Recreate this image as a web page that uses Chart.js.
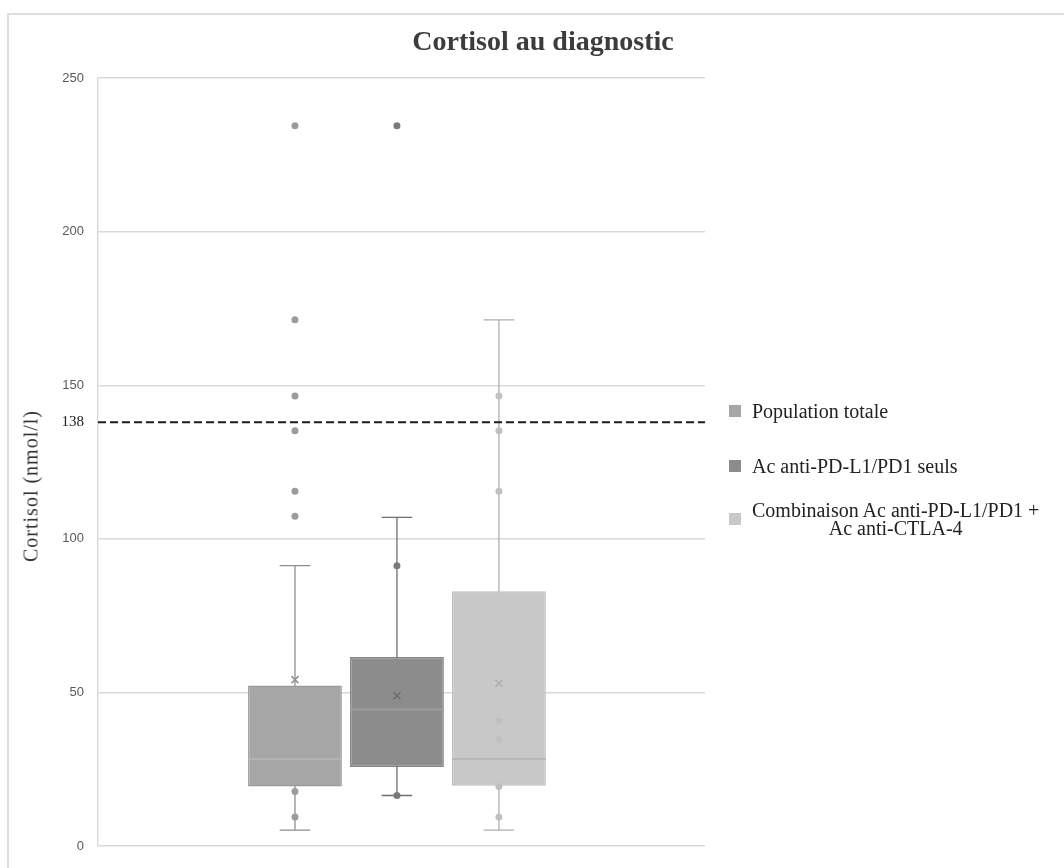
<!DOCTYPE html>
<html>
<head>
<meta charset="utf-8">
<script src="https://cdn.jsdelivr.net/npm/chart.js@4.4.1/dist/chart.umd.min.js"></script>
<style>
  html, body { margin: 0; padding: 0; background: #ffffff; }
  #wrap { position: relative; width: 1064px; height: 868px; overflow: hidden; background: #fff; }
  #frame { position: absolute; left: 7px; top: 13px; width: 1100px; height: 900px; border-left: 2px solid #dedede; border-top: 2px solid #dedede; }
  canvas { position: absolute; left: 0; top: 0; }
  #title { position: absolute; left: 0; width: 1086px; top: 24px; text-align: center; font-family: "Liberation Serif", "Times New Roman", serif; font-weight: bold; font-size: 28px; line-height: 34px; color: #3c3c3c; }
  #ytitle { position: absolute; left: 31px; top: 486px; width: 0; height: 0; }
  #ytitle span { position: absolute; left: 0; top: 0; transform: translate(-50%, -50%) rotate(-90deg); white-space: nowrap; font-family: "Liberation Serif", "Times New Roman", serif; font-size: 20px; letter-spacing: 1px; color: #333; }
  #legend { position: absolute; left: 729px; top: 0; font-family: "Liberation Serif", "Times New Roman", serif; font-size: 20px; color: #222; }
  .item { position: absolute; left: 0; white-space: nowrap; }
  .sw { position: absolute; left: 0; width: 12px; height: 12px; }
  .txt { position: absolute; left: 23px; line-height: 18px; text-align: center; }
</style>
</head>
<body>
<div id="wrap">
  <div id="frame"></div>
  <canvas id="c" width="1064" height="868"></canvas>
  <div id="title"></div>
  <div id="ytitle"><span></span></div>
  <div id="legend"></div>
</div>
<script>
// ---------- data ----------
const chartTitle = 'Cortisol au diagnostic';
const axisTitle = 'Cortisol (nmol/l)';
const groupLabels = ['Population totale', 'Ac anti-PD-L1/PD1 seuls', ['Combinaison Ac anti-PD-L1/PD1 +', 'Ac anti-CTLA-4']];
const q1Values = [19.4, 25.8, 19.7];
const q3Values = [52.3, 61.6, 83.0];
const medianValues = [28.4, 44.5, 28.4];
const meanValues = [54.2, 49.0, 53.0];
const whiskerLow = [5.2, 16.5, 5.2];
const whiskerHigh = [91.3, 107.0, 171.3];
const pointsTotal = [234.5, 171.3, 146.5, 135.2, 115.5, 107.4, 17.8, 9.5];
const pointsPD1 = [234.5, 91.3, 16.5];
const pointsCombo = [146.5, 135.2, 115.5, 40.6, 34.8, 19.4, 9.5];
const referenceValue = 138;
const yTicks = [0, 50, 100, 138, 150, 200, 250];

// ---------- styles ----------
const boxColors = ['#a6a6a6', '#8c8c8c', '#c8c8c8'];
const boxBorders = ['#9a9a9a', '#828282', '#bdbdbd'];
const whiskerColors = ['#8e8e8e', '#6e6e6e', '#aeaeae'];
const pointColors = ['#9c9c9c', '#7a7a7a', '#c0c0c0'];
const medianColors = ['#b4b4b4', '#9e9e9e', '#b8b8b8'];
const allPoints = [pointsTotal, pointsPD1, pointsCombo];

// group layout on a hidden linear x axis spanning [-0.5, 0.5]
const slot = 0.168;                 // distance between group centres
const barPct = 0.92;
const halfBar = slot * barPct / 2;
const capHalf = slot * 0.15;
const centerOf = i => (i - 1) * slot - 0.0075;

const datasets = [];
// boxes (floating bars)
groupLabels.forEach((lab, i) => {
  datasets.push({
    type: 'bar',
    label: Array.isArray(lab) ? lab.join(' ') : lab,
    data: [{ x: centerOf(i), y: [q1Values[i], q3Values[i]] }],
    backgroundColor: boxColors[i],
    borderColor: boxBorders[i],
    borderWidth: 1.5,
    borderSkipped: false,
    grouped: false,
    categoryPercentage: 1,
    barPercentage: barPct,
    order: 2
  });
});
// whiskers
groupLabels.forEach((lab, i) => {
  const cx = centerOf(i);
  datasets.push({
    type: 'line',
    data: [
      {x: cx, y: whiskerLow[i]}, {x: cx, y: whiskerHigh[i]}, {x: cx, y: null},
      {x: cx - capHalf, y: whiskerHigh[i]}, {x: cx + capHalf, y: whiskerHigh[i]}, {x: cx + capHalf, y: null},
      {x: cx - capHalf, y: whiskerLow[i]}, {x: cx + capHalf, y: whiskerLow[i]}
    ],
    borderColor: whiskerColors[i], borderWidth: 1.3, pointRadius: 0, spanGaps: false,
    order: 3
  });
});
// medians
groupLabels.forEach((lab, i) => {
  const cx = centerOf(i);
  datasets.push({
    type: 'line',
    data: [{x: cx - halfBar, y: medianValues[i]}, {x: cx + halfBar, y: medianValues[i]}],
    borderColor: medianColors[i], borderWidth: 2, pointRadius: 0,
    order: 1
  });
});
// means
groupLabels.forEach((lab, i) => {
  datasets.push({
    type: 'line', showLine: false,
    data: [{x: centerOf(i), y: meanValues[i]}],
    pointStyle: 'crossRot', pointRadius: 5, borderWidth: 1.5,
    borderColor: whiskerColors[i], backgroundColor: whiskerColors[i],
    order: 1
  });
});
// data points / outliers
allPoints.forEach((arr, i) => {
  datasets.push({
    type: 'line', showLine: false,
    data: arr.map(v => ({x: centerOf(i), y: v})),
    pointStyle: 'circle', pointRadius: 3.5, borderWidth: 0,
    backgroundColor: pointColors[i], borderColor: pointColors[i],
    order: 1
  });
});
// reference line 138
datasets.push({
  type: 'line',
  data: [{x: -0.5, y: referenceValue}, {x: 0.5, y: referenceValue}],
  borderColor: '#1e1e1e', borderWidth: 2, borderDash: [8, 4], pointRadius: 0,
  order: 0
});

new Chart(document.getElementById('c'), {
  type: 'bar',
  data: { datasets },
  options: {
    responsive: false,
    animation: false,
    events: [],
    layout: { padding: { left: 8, right: 359, top: 78, bottom: 15 } },
    plugins: {
      legend: { display: false },
      tooltip: { enabled: false },
      title: { display: false }
    },
    scales: {
      x: {
        type: 'linear', display: false, offset: false, min: -0.5, max: 0.5,
        afterBuildTicks: s => { s.ticks = [{ value: -0.5 }, { value: 0.5 }]; }
      },
      y: {
        min: 0, max: 250,
        afterBuildTicks: s => { s.ticks = yTicks.map(v => ({ value: v })); },
        afterFit: s => { s.width = 90; },
        ticks: {
          padding: 14,
          callback: v => String(v),
          color: c => (c.tick && c.tick.value === referenceValue) ? '#222' : '#595959',
          font: c => (c.tick && c.tick.value === referenceValue)
            ? { family: '"Liberation Serif", serif', size: 15 }
            : { family: '"Liberation Sans", sans-serif', size: 13 }
        },
        grid: {
          drawTicks: false,
          color: c => (c.tick && c.tick.value === referenceValue) ? 'rgba(0,0,0,0)' : '#d9d9d9',
          lineWidth: 1.5
        },
        border: { display: true, color: '#d9d9d9', width: 1.5 },
        title: { display: false }
      }
    }
  }
});

document.getElementById('title').textContent = chartTitle;
document.querySelector('#ytitle span').textContent = axisTitle;

// legend (HTML)
const legendTops = [411, 466, 519];
const legend = document.getElementById('legend');
groupLabels.forEach((lab, i) => {
  const lines = Array.isArray(lab) ? lab : [lab];
  const item = document.createElement('div');
  item.className = 'item';
  const h = lines.length * 18;
  item.style.top = (legendTops[i] - h / 2) + 'px';
  const sw = document.createElement('div');
  sw.className = 'sw';
  sw.style.background = boxColors[i];
  sw.style.top = (h / 2 - 6) + 'px';
  const t = document.createElement('div');
  t.className = 'txt';
  t.innerHTML = lines.join('<br>');
  item.appendChild(sw); item.appendChild(t);
  legend.appendChild(item);
});
</script>
</body>
</html>
